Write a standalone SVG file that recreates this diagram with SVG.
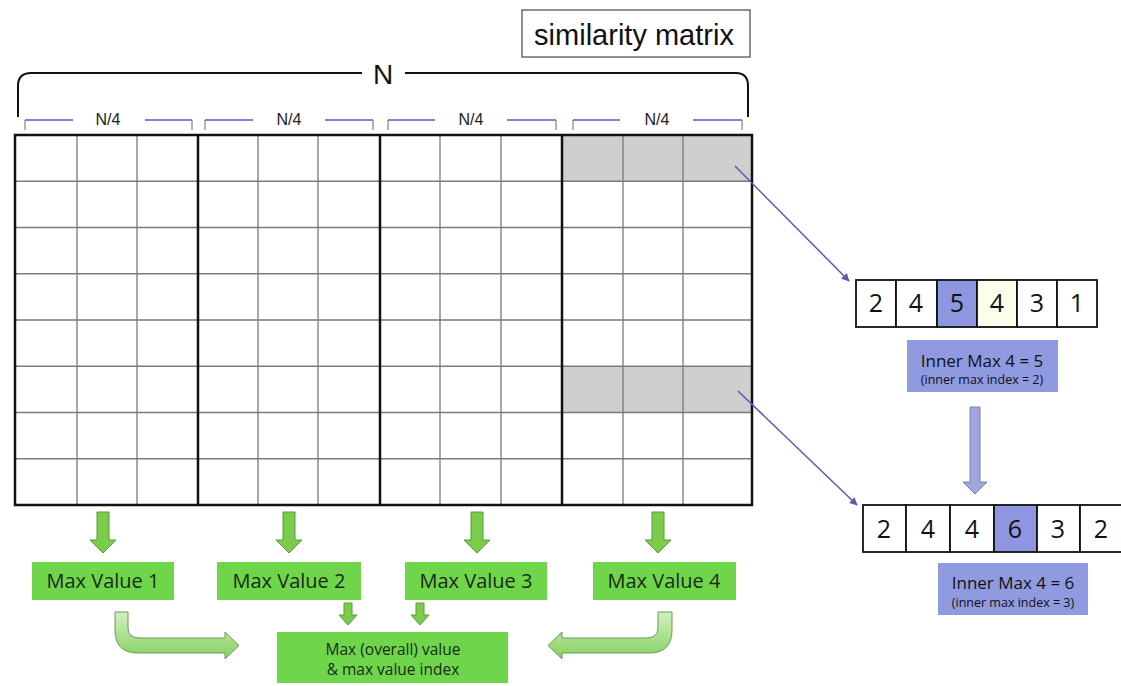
<svg xmlns="http://www.w3.org/2000/svg" width="1121" height="686" viewBox="0 0 1121 686">
<defs>
<style>
.thin{stroke:#7a7a7a;stroke-width:1.3;fill:none}
.thick{stroke:#111;stroke-width:2.5;fill:none}
.brace{stroke:#111;stroke-width:2;fill:none}
.bl{stroke:#5a5ac8;stroke-width:1.5;fill:none}
.tick{stroke:#8a8a9a;stroke-width:1.3;fill:none}
.q{font-family:"Liberation Sans",Arial,sans-serif;font-size:16px;fill:#222;text-anchor:middle}
.cell{fill:#fff;stroke:#111;stroke-width:1.8}
.hi{fill:#8e96df;stroke:#111;stroke-width:1.8}
.num{font-family:"Open Sans","Noto Sans",sans-serif;font-size:25px;fill:#111;text-anchor:middle}
.lab{fill:#8f9ae0}
.lt{font-family:"Open Sans","Noto Sans",sans-serif;font-size:17px;fill:#111;text-anchor:middle}
.ls{font-family:"Open Sans","Noto Sans",sans-serif;font-size:12.5px;fill:#111;text-anchor:middle}
.gbox{fill:#6fd64b}
.gt{font-family:"Open Sans","Noto Sans",sans-serif;font-size:20px;fill:#1a2a14;text-anchor:middle}
.gs{font-family:"Open Sans","Noto Sans",sans-serif;font-size:15.5px;fill:#1a2a14;text-anchor:middle}
.garrow{fill:#7acc4a;stroke:#5a9a3a;stroke-width:1}
.carrow{fill:url(#cg);stroke:#6a9a5a;stroke-width:1}
.diag{stroke:#5a5ab8;stroke-width:1.5;fill:none;marker-end:url(#ah)}
</style>
<marker id="ah" viewBox="0 0 10 10" refX="9" refY="5" markerWidth="8" markerHeight="8" orient="auto" markerUnits="userSpaceOnUse">
<path d="M0,0 L10,5 L0,10 z" fill="#5a5ab8"/>
</marker>
<linearGradient id="cg" x1="0" y1="0" x2="0" y2="1">
<stop offset="0" stop-color="#d2f0c0"/>
<stop offset="1" stop-color="#86d060"/>
</linearGradient>
</defs>

<g id="title">
<rect x="522" y="10" width="228" height="47" fill="#fff" stroke="#555" stroke-width="1.3"/>
<text x="634" y="45" font-family="Liberation Sans,Arial,sans-serif" font-size="29" fill="#111" text-anchor="middle">similarity matrix</text>
</g>

<g id="brace-n">
<path class="brace" d="M18 117 L18 86 Q18 73 31 73 L362 73"/>
<path class="brace" d="M405 73 L736 73 Q748 73 748 86 L748 117"/>
<text x="383" y="84" font-family="Liberation Sans,Arial,sans-serif" font-size="28" fill="#111" text-anchor="middle">N</text>
</g>

<g id="brackets">
<path class="tick" d="M25 130 L25 120"/><path class="bl" d="M25 120 L73 120"/>
<path class="bl" d="M145 120 L192 120"/><path class="tick" d="M192 120 L192 130"/>
<text class="q" x="108" y="125">N/4</text>
<path class="tick" d="M205 130 L205 120"/><path class="bl" d="M205 120 L253 120"/>
<path class="bl" d="M325 120 L373 120"/><path class="tick" d="M373 120 L373 130"/>
<text class="q" x="289" y="125">N/4</text>
<path class="tick" d="M388 130 L388 120"/><path class="bl" d="M388 120 L435 120"/>
<path class="bl" d="M507 120 L556 120"/><path class="tick" d="M556 120 L556 130"/>
<text class="q" x="471" y="125">N/4</text>
<path class="tick" d="M573 130 L573 120"/><path class="bl" d="M573 120 L620 120"/>
<path class="bl" d="M693 120 L742 120"/><path class="tick" d="M742 120 L742 130"/>
<text class="q" x="657" y="125">N/4</text>
</g>

<g id="matrix">
<rect x="15" y="135" width="737" height="370" fill="#fff"/>
<rect x="562" y="135" width="190" height="47" fill="#cfcfcf"/>
<rect x="562" y="367" width="190" height="46" fill="#cfcfcf"/>
<path class="thin" d="M77 135V505M137 135V505M258 135V505M318 135V505M440 135V505M501 135V505M623 135V505M683 135V505"/>
<path class="thin" d="M15 181.25H752M15 227.5H752M15 273.75H752M15 320H752M15 366.25H752M15 412.5H752M15 458.75H752"/>
<path class="thick" d="M198 135V505M380 135V505M562 135V505"/>
<rect class="thick" x="15" y="135" width="737" height="370"/>
</g>

<g id="connectors">
<path class="diag" d="M735 166 L849 281"/>
<path class="diag" d="M738 391 L857 505"/>
<path d="M970 407 H980 V482 H987 L975 494 L963 482 H970 Z" fill="#9fa6de" stroke="#7a80c0" stroke-width="1"/>
<path class="garrow" d="M97 512 H109 V540 H116 L103 553 L90 540 H97 Z"/>
<path class="garrow" d="M283 512 H295 V540 H302 L289 553 L276 540 H283 Z"/>
<path class="garrow" d="M471 512 H483 V540 H490 L477 553 L464 540 H471 Z"/>
<path class="garrow" d="M652 512 H664 V540 H671 L658 553 L645 540 H652 Z"/>
<path class="garrow" d="M344 603 H352 V615 H357 L348 625 L339 615 H344 Z"/>
<path class="garrow" d="M416 603 H424 V615 H429 L420 625 L411 615 H416 Z"/>
<path class="carrow" d="M115 612 H128 V628 Q128 638 140 638 H225 V632 L239 645.5 L225 659 V653 H138 Q115 653 115 630 Z"/>
<path class="carrow" d="M672 612 H658 V628 Q658 638 646 638 H562 V632 L548 645.5 L562 659 V653 H649 Q672 653 672 630 Z"/>
</g>

<g id="array1">
<rect class="cell" x="856" y="280" width="40" height="47"/>
<rect class="cell" x="896" y="280" width="41" height="47"/>
<rect class="hi" x="937" y="280" width="40" height="47"/>
<rect x="977" y="280" width="40" height="47" fill="#fcfdea" stroke="#111" stroke-width="1.8"/>
<rect class="cell" x="1017" y="280" width="40" height="47"/>
<rect class="cell" x="1057" y="280" width="40" height="47"/>
<text class="num" x="876" y="312">2</text>
<text class="num" x="916" y="312">4</text>
<text class="num" x="957" y="312">5</text>
<text class="num" x="997" y="312">4</text>
<text class="num" x="1037" y="312">3</text>
<text class="num" x="1077" y="312">1</text>
</g>

<g id="inner-max-1">
<rect class="lab" x="907" y="340" width="151" height="52"/>
<text class="lt" x="982" y="367">Inner Max 4 = 5</text>
<text class="ls" x="982" y="384">(inner max index = 2)</text>
</g>

<g id="array2">
<rect class="cell" x="863" y="505" width="43" height="47"/>
<rect class="cell" x="906" y="505" width="44" height="47"/>
<rect class="cell" x="950" y="505" width="44" height="47"/>
<rect class="hi" x="994" y="505" width="43" height="47"/>
<rect class="cell" x="1037" y="505" width="43" height="47"/>
<rect class="cell" x="1080" y="505" width="44" height="47"/>
<text class="num" x="884" y="538">2</text>
<text class="num" x="928" y="538">4</text>
<text class="num" x="972" y="538">4</text>
<text class="num" x="1015" y="538">6</text>
<text class="num" x="1058" y="538">3</text>
<text class="num" x="1101" y="538">2</text>
</g>

<g id="inner-max-2">
<rect class="lab" x="938" y="563" width="150" height="52"/>
<text class="lt" x="1013" y="589">Inner Max 4 = 6</text>
<text class="ls" x="1013" y="607">(inner max index = 3)</text>
</g>

<g id="max1"><rect class="gbox" x="32" y="562" width="142" height="38"/><text class="gt" x="103" y="588">Max Value 1</text></g>
<g id="max2"><rect class="gbox" x="217" y="562" width="144" height="38"/><text class="gt" x="289" y="588">Max Value 2</text></g>
<g id="max3"><rect class="gbox" x="405" y="562" width="142" height="38"/><text class="gt" x="476" y="588">Max Value 3</text></g>
<g id="max4"><rect class="gbox" x="593" y="562" width="143" height="38"/><text class="gt" x="664" y="588">Max Value 4</text></g>
<g id="overall">
<rect class="gbox" x="277" y="632" width="231" height="51"/>
<text class="gs" x="393" y="655">Max (overall) value</text>
<text class="gs" x="393" y="675">&amp; max value index</text>
</g>
</svg>
